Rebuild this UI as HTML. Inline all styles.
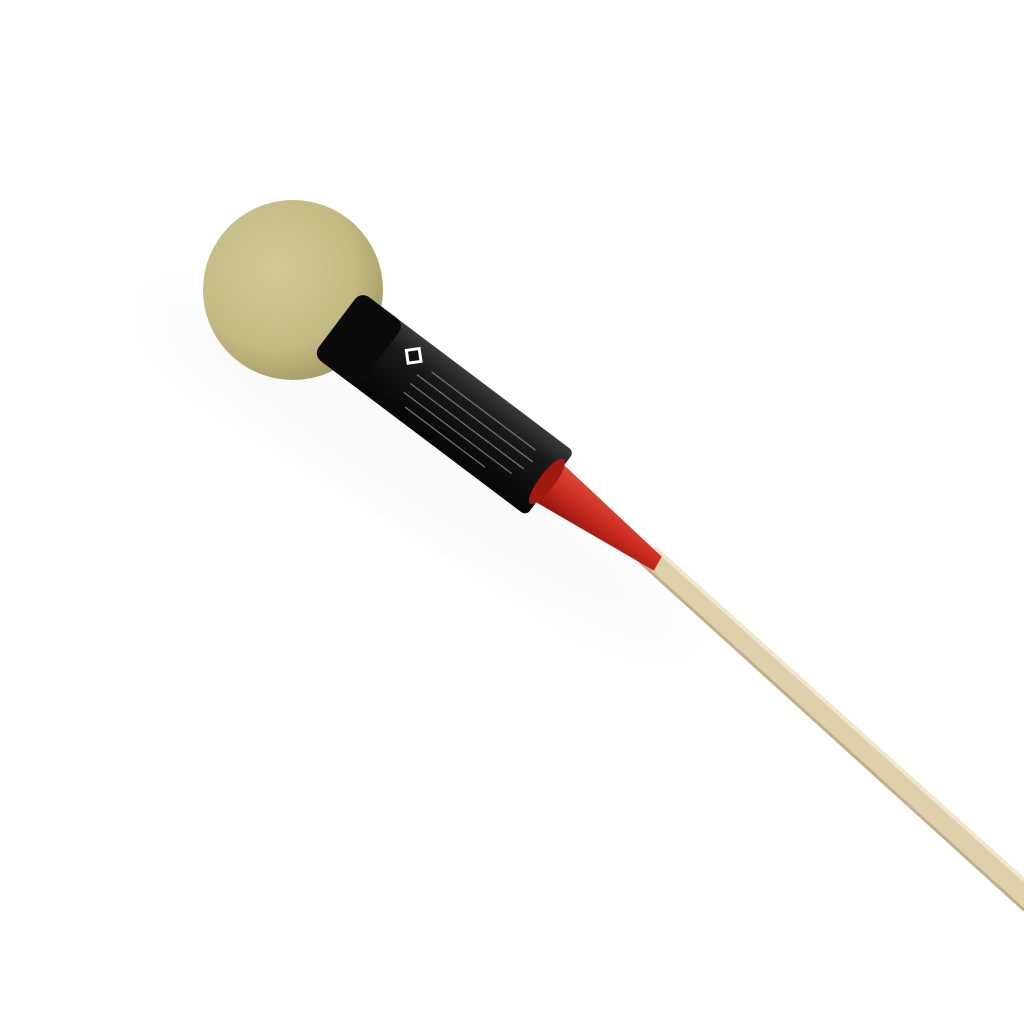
<!DOCTYPE html>
<html><head><style>html,body{margin:0;padding:0;background:#fff;}svg{display:block}</style></head>
<body>
<svg width="1024" height="1024" viewBox="0 0 1024 1024" xmlns="http://www.w3.org/2000/svg">
<defs>
<radialGradient id="ball" cx="0.4" cy="0.38" r="0.65">
<stop offset="0" stop-color="#d2cb98"/><stop offset="0.7" stop-color="#c2ba82"/><stop offset="1" stop-color="#a59d66"/>
</radialGradient>
<linearGradient id="tube" x1="0" y1="0" x2="0" y2="1">
<stop offset="0" stop-color="#3a3a3a"/><stop offset="0.3" stop-color="#1a1a1a"/><stop offset="1" stop-color="#050505"/>
</linearGradient>
<linearGradient id="cone" x1="0" y1="0" x2="0" y2="1">
<stop offset="0" stop-color="#e04a3a"/><stop offset="0.5" stop-color="#c92a1e"/><stop offset="1" stop-color="#8e140e"/>
</linearGradient>
<filter id="blur"><feGaussianBlur stdDeviation="25"/></filter>
</defs>
<ellipse cx="420" cy="470" rx="320" ry="50" transform="rotate(32 420 470)" fill="#000" opacity="0.02" filter="url(#blur)"/>
<polygon points="640,560 655,548 1024,880 1024,912" fill="#ddd0aa"/>
<polyline points="655,548 1024,880" stroke="#efe6cb" stroke-width="4" fill="none"/>
<polyline points="640,562 1024,910" stroke="#bfb08a" stroke-width="3" fill="none"/>
<g transform="translate(293,290) rotate(37)">
<path d="M315,-24 L455,-9 L457,7 L315,24 Z" fill="url(#cone)"/>
<rect x="60" y="-40" width="262" height="80" rx="6" fill="url(#tube)"/>
<ellipse cx="318" cy="0" rx="8" ry="28" fill="#a01a12"/>
<rect x="128" y="-28" width="16" height="16" transform="rotate(45 136 -20)" fill="#fff"/>
<rect x="131" y="-25" width="10" height="10" transform="rotate(45 136 -20)" fill="#111"/>
<g stroke="#888" stroke-width="1.3" opacity="0.8">
<line x1="160" y1="-18" x2="290" y2="-18"/><line x1="150" y1="-7" x2="295" y2="-7"/>
<line x1="150" y1="4" x2="292" y2="4"/><line x1="150" y1="15" x2="285" y2="15"/>
<line x1="160" y1="26" x2="260" y2="26"/>
</g>
</g>
<circle cx="293" cy="290" r="90" fill="url(#ball)"/>
<g transform="translate(293,290) rotate(37)">
<rect x="55" y="-40" width="55" height="80" rx="10" fill="#0b0b0b"/>
</g>
</svg>
</body></html>
